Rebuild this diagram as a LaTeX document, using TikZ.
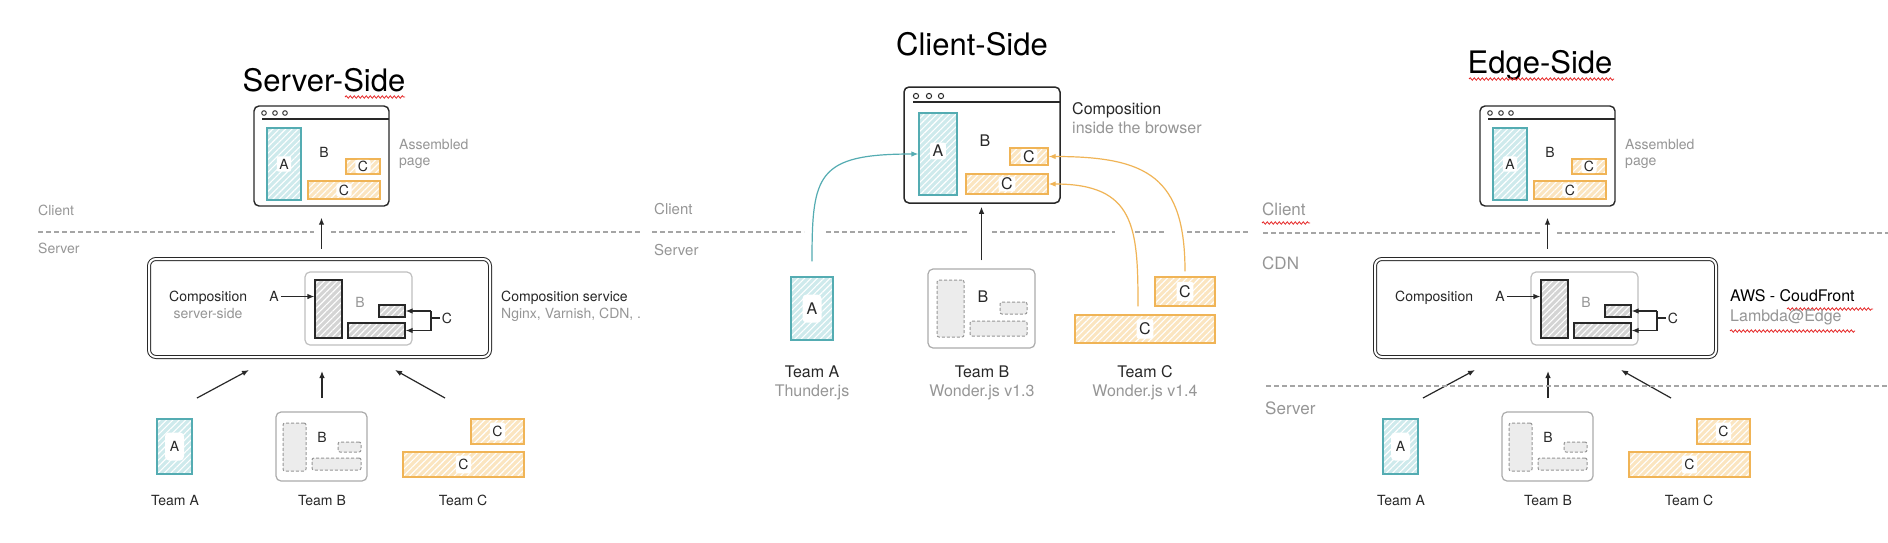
\documentclass[tikz,border=0pt]{standalone}
\usepackage{fontspec}
\setmainfont{TeX Gyre Heros}
\usepackage{xcolor}
\usepackage{tikz}
\usetikzlibrary{arrows.meta,patterns.meta,decorations.pathmorphing,fit}

\definecolor{ink}{RGB}{40,40,40}
\definecolor{faded}{RGB}{150,150,150}
\definecolor{rule}{RGB}{165,165,165}
\definecolor{tealline}{RGB}{84,172,178}
\definecolor{tealfill}{RGB}{206,234,236}
\definecolor{orangeline}{RGB}{240,180,86}
\definecolor{orangefill}{RGB}{251,229,192}
\definecolor{fragfill}{RGB}{212,212,212}
\definecolor{squig}{RGB}{230,40,40}

\tikzset{lbl/.style={font=\fontsize{14}{16}\selectfont,text=ink,inner sep=0pt,anchor=mid west}}
\tikzset{hint/.style={lbl,text=faded}}
\tikzset{lblm/.style={lbl,font=\fontsize{16}{18}\selectfont}}
\tikzset{hintm/.style={lblm,text=faded}}
\tikzset{side/.style={hint,font=\fontsize{17}{19}\selectfont}}
\tikzset{headline/.style={font=\fontsize{31}{34}\selectfont,text=black,inner sep=0pt,anchor=base}}
\tikzset{window/.style={draw=ink,line width=1.4pt,rounded corners=5pt,fill=white,inner sep=0pt}}
\tikzset{hatch/.style={preaction={fill=#1},pattern={Lines[angle=45,distance=4.5pt,line width=1.1pt]},pattern color=white,inner sep=0pt}}
\tikzset{partA/.style={hatch=tealfill,draw=tealline,line width=1.2pt}}
\tikzset{partC/.style={hatch=orangefill,draw=orangeline,line width=1.2pt}}
\tikzset{frag/.style={hatch=fragfill,draw=ink,line width=1.2pt}}
\tikzset{ghost/.style={draw=faded,fill=gray!15,dash pattern=on 3pt off 2pt,line width=1pt,rounded corners=2pt,inner sep=0pt}}
\tikzset{shell/.style={draw=faded!80,fill=white,line width=1.2pt,rounded corners=5pt,inner sep=0pt}}
\tikzset{service/.style={draw=ink,line width=1pt,double=white,double distance=2pt,rounded corners=7pt,inner sep=0pt}}
\tikzset{tag/.style={fill=white,rounded corners=2pt,inner xsep=2.5pt,inner ysep=1.2pt,text=ink,font=\fontsize{14}{16}\selectfont}}
\tikzset{tagt/.style={tag,inner ysep=3.5pt}}
\tikzset{plate/.style={tag,minimum width=19pt,minimum height=28pt,rounded corners=4pt}}
\tikzset{sep/.style={draw=rule,line width=1.2pt,dash pattern=on 5pt off 3pt}}
\tikzset{flow/.style={->,color=ink,line width=1.2pt}}
\tikzset{squiggle/.style={draw=squig,line width=0.8pt,decorate,decoration={snake,amplitude=1.2pt,segment length=4pt}}}

\begin{document}
\begin{tikzpicture}[x=1pt,y=-1pt,>={Latex[length=7pt,width=5.5pt]}]
\fill[white] (0,0) rectangle (1888,542);
\useasboundingbox (0,0) rectangle (1888,542);

% titles
\node[headline] (tserver) at (324,91) {Server-Side};
\node[headline] (tclient) at (972,55) {Client-Side};
\node[headline] (tedge) at (1540,73) {Edge-Side};
\draw[squiggle] (345,97) -- (405,97);
\draw[squiggle] (1469,79) -- (1614,79);

% server-side and edge-side share one layout
\foreach \dx/\p in {0/l,1226/r}{
  \node[window,fit={(254+\dx,106) (389+\dx,206)}] (page\p) {};
  \draw[ink,line width=1.2pt] (262+\dx,119) -- (389+\dx,119);
  \foreach \x in {264,275,285}
    \draw[ink,line width=0.9pt] (\x+\dx,113) circle (2.3pt);
  \node[partA,fit={(267+\dx,128) (301+\dx,200)}] (pA\p) {};
  \node[tag,inner ysep=2.5pt] (tpA\p) at (pA\p) {A};
  \node[lbl,anchor=mid] (pB\p) at (324+\dx,155) {B};
  \node[partC,fit={(346+\dx,159) (380+\dx,174)}] (pC\p) {};
  \node[tag] (tpC\p) at (pC\p) {C};
  \node[partC,fit={(308+\dx,181) (380+\dx,199)}] (pCC\p) {};
  \node[tag] (tpCC\p) at (pCC\p) {C};
  \node[hint] (asm\p) at (399+\dx,147) {Assembled};
  \node[hint] (asmb\p) at (399+\dx,163) {page};
  % composition box
  \node[service,fit={(149+\dx,259) (490+\dx,357)}] (comp\p) {};
  \node[lbl] (ctxt\p) at (169+\dx,299) {Composition};
  \node[shell,draw=faded!60,fit={(305+\dx,272) (412+\dx,345)}] (slot\p) {};
  \node[frag,fit={(315+\dx,280) (342+\dx,338)}] (fA\p) {};
  \node[lbl,text=faded,anchor=mid] (fB\p) at (360+\dx,305) {B};
  \node[frag,fit={(379+\dx,305) (405+\dx,317)}] (fC\p) {};
  \node[frag,fit={(348+\dx,323) (405+\dx,338)}] (fCC\p) {};
  \node[lbl,anchor=mid] (inA\p) at (274+\dx,299) {A};
  \path[flow,shorten <=2pt] (inA\p) edge (inA\p -| fA\p.west);
  \node[lbl,anchor=mid] (inC\p) at (447+\dx,320.5) {C};
  \coordinate (k1\p) at (431+\dx,311);
  \coordinate (k2\p) at (431+\dx,330.5);
  \draw[ink,line width=1.2pt] (k1\p) -- (k2\p) (k1\p |- inC\p) -- ([xshift=-2pt]inC\p.west);
  \path[flow] (k1\p) edge (fC\p.east) (k2\p) edge (fCC\p.east);
  \path[flow,shorten <=10pt,shorten >=11pt] (comp\p.north -| page\p.south) edge (page\p.south);
  % teams
  \coordinate (ua\p) at (197+\dx,398); \coordinate (va\p) at (249+\dx,370);
  \coordinate (ub\p) at (322+\dx,398); \coordinate (vb\p) at (322+\dx,371);
  \coordinate (uc\p) at (445+\dx,398); \coordinate (vc\p) at (395+\dx,370);
  \path[flow] (ua\p) edge (va\p) (ub\p) edge (vb\p) (uc\p) edge (vc\p);
  \node[partA,fit={(157+\dx,419) (192+\dx,474)}] (tA\p) {};
  \node[plate] (ptA\p) at (tA\p) {A};
  \node[shell,fit={(276+\dx,412) (367+\dx,481)}] (tB\p) {};
  \node[ghost,fit={(283+\dx,423) (306+\dx,471)}] (gA\p) {};
  \node[ghost,fit={(338+\dx,442) (361+\dx,452)}] (gC\p) {};
  \node[ghost,fit={(312+\dx,458) (361+\dx,470)}] (gCC\p) {};
  \node[lbl,anchor=mid] (gB\p) at (322+\dx,440) {B};
  \node[partC,fit={(471+\dx,419) (524+\dx,444)}] (tC\p) {};
  \node[tagt] (ptC\p) at (tC\p) {C};
  \node[partC,fit={(403+\dx,452) (524+\dx,477)}] (tCC\p) {};
  \node[tagt] (ptCC\p) at (tCC\p) {C};
  \node[lbl,anchor=mid] (nA\p) at (175+\dx,503) {Team A};
  \node[lbl,anchor=mid] (nB\p) at (322+\dx,503) {Team B};
  \node[lbl,anchor=mid] (nC\p) at (463+\dx,503) {Team C};
}

% server-side labels
\node[hint] (clientl) at (38,213) {Client};
\node[hint] (serverl) at (38,251) {Server};
\draw[sep] (38,232) -- (314,232) (331,232) -- (640,232);
\node[hint,anchor=mid] (csub) at (208,316) {server-side};
\node[lbl] (svc) at (501,299) {Composition service};
\node[hint] (svcsub) at (501,316) {Nginx, Varnish, CDN, .};

% edge-side labels
\node[side] (clientr) at (1262,213) {Client};
\draw[squiggle] (1262,223) -- (1310,223);
\draw[sep] (1263,233) -- (1540,233) (1557,233) -- (1888,233);
\node[side] (cdn) at (1262,267) {CDN};
\draw[sep] (1266,386) -- (1888,386);
\node[side] (serverr) at (1265,412) {Server};
\node[lbl,font=\fontsize{16}{18}\selectfont,text=black] (aws) at (1730,298.5) {AWS - CoudFront};
\draw[squiggle] (1787,309) -- (1873,309);
\node[hint,font=\fontsize{16}{18}\selectfont] (lam) at (1730,318.5) {Lambda@Edge};
\draw[squiggle] (1730,331) -- (1855,331);

% client-side
\node[window,line width=1.5pt,fit={(904,87) (1060,203)}] (mpage) {};
\draw[ink,line width=1.3pt] (913,102) -- (1060,102);
\foreach \x in {916,929,941}
  \draw[ink,line width=1pt] (\x,96) circle (2.6pt);
\node[partA,fit={(919,113) (957,195)}] (mA) {};
\node[tag,inner ysep=2.5pt,font=\fontsize{16}{18}\selectfont] (tmA) at (938,151) {A};
\node[lblm,anchor=mid] (mB) at (985,144) {B};
\node[partC,fit={(1010,148) (1048,165)}] (mC) {};
\node[tag,font=\fontsize{16}{18}\selectfont] (tmC) at (mC) {C};
\node[partC,fit={(966,174) (1048,194)}] (mCC) {};
\node[tag,font=\fontsize{16}{18}\selectfont] (tmCC) at (mCC) {C};
\node[lblm] (mcomp) at (1072,112) {Composition};
\node[hintm] (minside) at (1072,131) {inside the browser};
\node[hint,font=\fontsize{15}{17}\selectfont] (mclient) at (654,212) {Client};
\node[hint,font=\fontsize{15}{17}\selectfont] (mserver) at (654,253) {Server};
\draw[sep] (652,232) -- (804,232) (826,232) -- (968,232) (992,232) -- (1115,232)
  (1135,232) -- (1165,232) (1187,232) -- (1250,232);
\node[partA,fit={(791,277) (833,340)}] (mtA) {};
\node[plate,font=\fontsize{16}{18}\selectfont] (pmtA) at (mtA) {A};
\node[shell,fit={(928,269) (1035,348)}] (mtB) {};
\node[ghost,fit={(937,280) (964,337)}] (mgA) {};
\node[ghost,fit={(1000,302) (1027,314)}] (mgC) {};
\node[ghost,fit={(970,321) (1027,336)}] (mgCC) {};
\node[lblm,anchor=mid] (mgB) at (983,300) {B};
\node[partC,fit={(1155,277) (1215,306)}] (mtC) {};
\node[tagt,font=\fontsize{16}{18}\selectfont] (pmtC) at (mtC) {C};
\node[partC,fit={(1075,315) (1215,343)}] (mtCC) {};
\node[tagt,font=\fontsize{16}{18}\selectfont] (pmtCC) at (mtCC) {C};
\node[lblm,anchor=mid] (mnA) at (812,375) {Team A};
\node[hintm,anchor=mid] (mjA) at (812,394) {Thunder.js};
\node[lblm,anchor=mid] (mnB) at (982,375) {Team B};
\node[hintm,anchor=mid] (mjB) at (982,394) {Wonder.js v1.3};
\node[lblm,anchor=mid] (mnC) at (1145,375) {Team C};
\node[hintm,anchor=mid] (mjC) at (1145,394) {Wonder.js v1.4};
\path[flow,shorten <=8pt,shorten >=3pt] (mtB.north) edge (mtB.north |- mpage.south);
\path[flow,color=tealline,shorten <=15pt] (mtA.north) edge[out=90,in=180,looseness=1.6] (mA.west);
\path[flow,color=orangeline,shorten <=5pt] (mtC.north) edge[out=90,in=0,looseness=1.4] (mC.east);
\path[flow,color=orangeline,shorten <=8pt] ([xshift=-7pt]mtCC.north) edge[out=90,in=0,looseness=1.4] (mCC.east);
\end{tikzpicture}
\end{document}
